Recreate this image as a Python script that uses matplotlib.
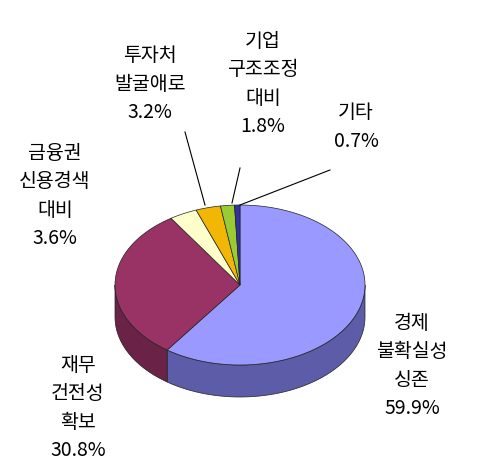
import matplotlib
matplotlib.use("Agg")
import matplotlib.pyplot as plt
from matplotlib.patches import Polygon
import numpy as np

plt.rcParams['font.family'] = ['Noto Sans CJK KR', 'DejaVu Sans']

labels = ["경제\n불확실성\n싱존\n59.9%", "재무\n건전성\n확보\n30.8%", "금융권\n신용경색\n대비\n3.6%",
          "투자처\n발굴애로\n3.2%", "기업\n구조조정\n대비\n1.8%", "기타\n0.7%"]
values = [59.9, 30.8, 3.6, 3.2, 1.8, 0.7]
top_colors = ["#9999FF", "#993366", "#FFFFCC", "#F2B705", "#99CC33", "#333399"]
side_colors = ["#5C5CA8", "#6A2347", "#C8C89A", "#B08400", "#6E9424", "#1E1E66"]
label_pos = [(412, 366), (78, 408), (55, 196), (150, 84), (263, 84), (356, 127)]

cx, cy, rx, ry, depth = 240, 285, 125, 80, 32

fig = plt.figure(figsize=(4.8, 4.71), dpi=100)
ax = fig.add_axes([0, 0, 1, 1])
ax.set_xlim(0, 480)
ax.set_ylim(471, 0)
ax.axis("off")


def pt(t, dy=0):
    return cx + rx * np.cos(t), cy - ry * np.sin(t) + dy


# slices clockwise from the top
start = np.pi / 2
ranges = []
for v in values:
    end = start - v / 100 * 2 * np.pi
    ranges.append((end, start))
    start = end

# side walls (front half only)
for (a, b), sc in zip(ranges, side_colors):
    for shift in (0, -2 * np.pi, 2 * np.pi):
        lo, hi = max(a + shift, np.pi), min(b + shift, 2 * np.pi)
        if hi > lo:
            t = np.linspace(lo, hi, 60)
            upper = [pt(x) for x in t]
            lower = [pt(x, depth) for x in t[::-1]]
            ax.add_patch(Polygon(upper + lower, closed=True, facecolor=sc,
                                 edgecolor="#222222", lw=0.5))

# top faces
for (a, b), tc in zip(ranges, top_colors):
    t = np.linspace(a, b, 120)
    verts = [(cx, cy)] + [pt(x) for x in t]
    ax.add_patch(Polygon(verts, closed=True, facecolor=tc, edgecolor="#222222", lw=0.5))

# leader lines
for (x0, y0), (x1, y1) in [((185, 132), (205, 205)), ((240, 168), (232, 203)),
                           ((330, 170), (240, 205))]:
    ax.plot([x0, x1], [y0, y1], color="black", lw=0.8)

for lab, (x, y) in zip(labels, label_pos):
    ax.text(x, y, lab, ha="center", va="center", fontsize=14, linespacing=1.45)

fig.savefig("out.png", dpi=100)
